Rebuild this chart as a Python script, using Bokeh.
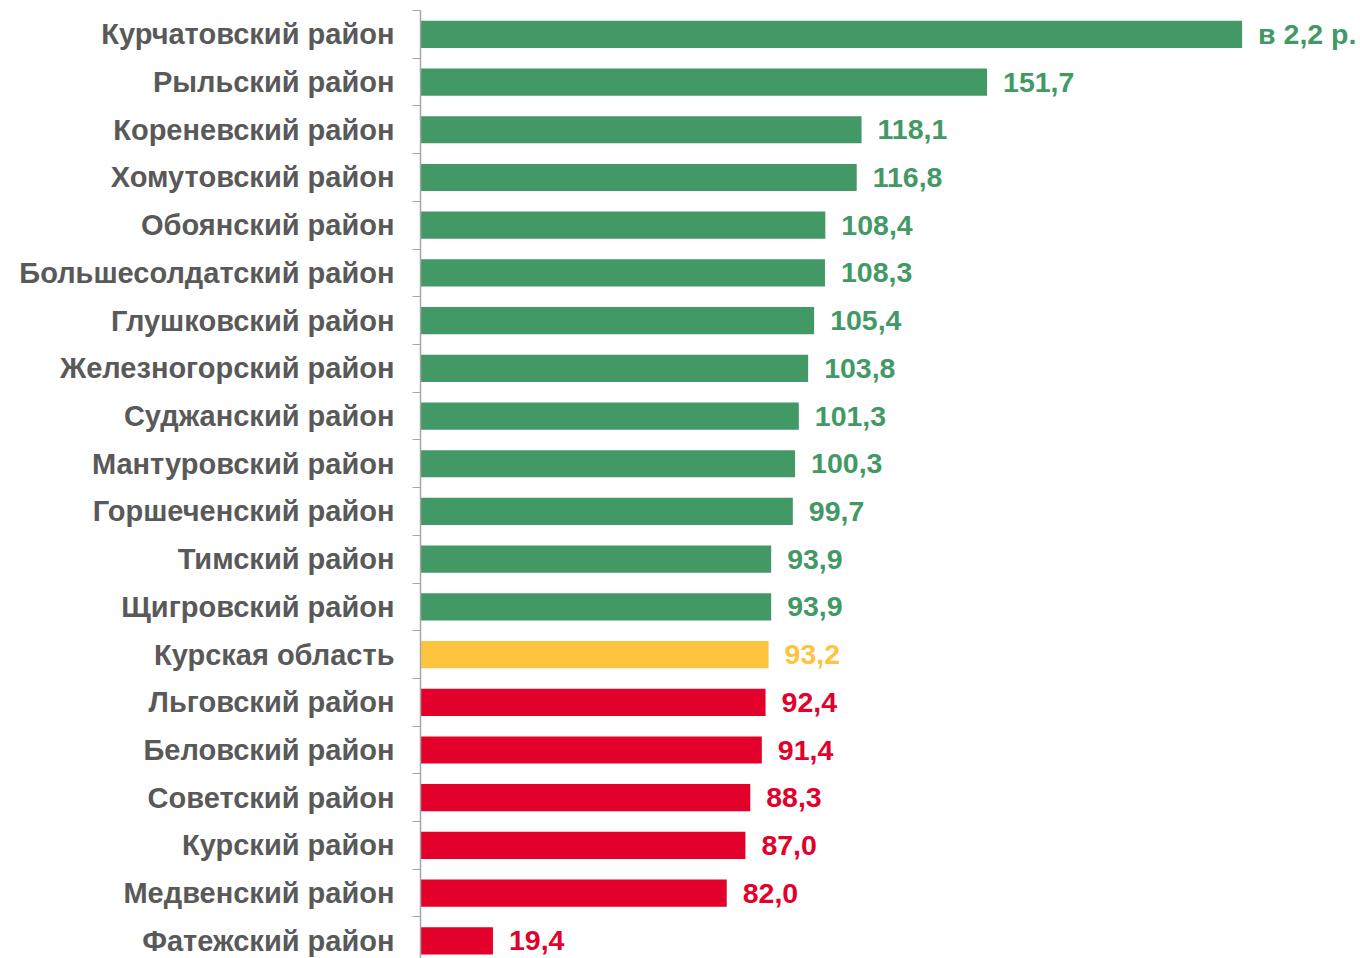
from bokeh.plotting import figure
from bokeh.models import Range1d, FixedTicker, ColumnDataSource, LabelSet
from bokeh.core.properties import value
from bokeh.embed import file_html
from bokeh.resources import INLINE

categories = ["Курчатовский район", "Рыльский район", "Кореневский район", "Хомутовский район",
              "Обоянский район", "Большесолдатский район", "Глушковский район", "Железногорский район",
              "Суджанский район", "Мантуровский район", "Горшеченский район", "Тимский район",
              "Щигровский район", "Курская область", "Льговский район", "Беловский район",
              "Советский район", "Курский район", "Медвенский район", "Фатежский район"]
values = [220.0, 151.7, 118.1, 116.8, 108.4, 108.3, 105.4, 103.8, 101.3, 100.3, 99.7, 93.9,
          93.9, 93.2, 92.4, 91.4, 88.3, 87.0, 82.0, 19.4]
value_labels = ["в 2,2 р.", "151,7", "118,1", "116,8", "108,4", "108,3", "105,4", "103,8", "101,3",
                "100,3", "99,7", "93,9", "93,9", "93,2", "92,4", "91,4", "88,3", "87,0", "82,0", "19,4"]
groups = ["up"] * 13 + ["region"] + ["down"] * 6

GREEN = "#439966"
YELLOW = "#FFC43D"
RED = "#E3002B"
cmap = {"up": GREEN, "region": YELLOW, "down": RED}

idx = list(range(len(categories)))
colors = [cmap[g] for g in groups]
src = ColumnDataSource(dict(y=idx, v=values, lab=value_labels, c=colors))

p = figure(width=1360, height=958, output_backend="svg", toolbar_location=None,
           x_range=Range1d(0, 251.7), y_range=Range1d(19.37, -0.5),
           min_border_left=420, min_border_right=0, min_border_top=10, min_border_bottom=0)
p.outline_line_color = None
p.xgrid.visible = False
p.ygrid.visible = False
p.xaxis.visible = False

p.hbar(y="y", left=0, right="v", height=0.57, fill_color="c", line_color=None, source=src)
labels = LabelSet(x="v", y="y", text="lab", x_offset=16, text_color="c", text_align="left",
                  text_baseline="middle", text_font=value("Liberation Sans"), text_font_style="bold",
                  text_font_size="28.5px", source=src)
p.add_layout(labels)

ya = p.yaxis[0]
ya.ticker = FixedTicker(ticks=idx, minor_ticks=[i - 0.5 for i in range(len(categories) + 1)])
ya.major_label_overrides = {i: c for i, c in enumerate(categories)}
ya.major_tick_out = 0
ya.major_tick_in = 0
ya.minor_tick_out = 8
ya.minor_tick_in = 0
ya.minor_tick_line_color = "#A6A6A6"
ya.axis_line_color = "#A6A6A6"
ya.axis_line_width = 1.5
ya.major_label_standoff = 18
ya.major_label_text_font = "Liberation Sans"
ya.major_label_text_font_style = "bold"
ya.major_label_text_font_size = "29px"
ya.major_label_text_color = "#595959"

open("out.html", "w").write(file_html(p, INLINE))
